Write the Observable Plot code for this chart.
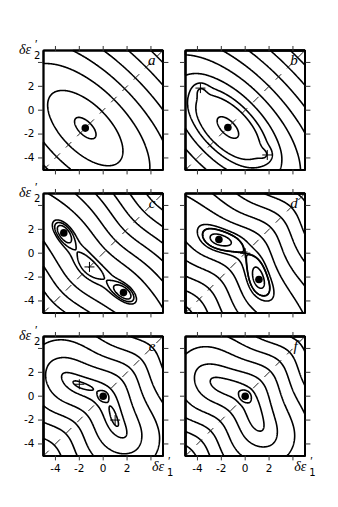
<!DOCTYPE html>
<html><head><meta charset="utf-8">
<script src="https://cdn.jsdelivr.net/npm/d3@7"></script>
<script src="https://cdn.jsdelivr.net/npm/@observablehq/plot@0.6"></script>
<style>
html,body{margin:0;padding:0;background:#fff;}
#fig{position:relative;width:338px;height:507px;overflow:hidden;}
#fig svg{position:absolute;overflow:visible;}
.m{position:absolute;font-family:"Liberation Serif","DejaVu Serif",serif;font-style:italic;color:#000;white-space:nowrap;line-height:1;}
.m .pr{position:absolute;left:16px;top:-5px;font-size:12px;font-style:normal;}
.m .sb{position:absolute;left:15px;top:8px;font-size:10px;font-style:normal;font-family:"DejaVu Sans",sans-serif;}
</style></head><body><div id="fig"></div>
<script>
// ---------------- data ----------------
const DOMAIN = [-5, 5];
const TICKS = [-4, -2, 0, 2, 4];
const LABELLED_TICKS = [-4, -2, 0, 2];
const TICK_LABELS = ["-4", "-2", "0", "2"];
const LETTERS = ["a", "b", "c", "d", "e", "f"];

// filled dots (deepest minima) per panel
const minimaA = [[-1.5, -1.5]];
const minimaB = [[-1.45, -1.45]];
const minimaC = [[-3.3, 1.7], [1.7, -3.3]];
const minimaD = [[-2.2, 1.15], [1.15, -2.2]];
const minimaE = [[0, 0]];
const minimaF = [[0, 0]];
// plus signs (secondary stationary points)
const plusA = [];
const plusB = [[-3.75, 1.85], [1.85, -3.75]];
const plusC = [[-1.15, -1.15]];
const plusD = [[0, 0]];
const plusE = [[-2, 1], [1, -2]];
const plusF = [];

// valley model: centre line u = U0 + dU*(1-exp(-v^2/2s^2)); stiffness A across, B (and C, quartic) along
const valleyU0 = [-2.12, -2.05, -1.63, 0, 0, 0];
const valleyDU = [0, 0, 0.63, -1.2, -1.13, -1.13];
const valleyS = [1, 1, 2, 1.7, 1.5, 1.5];
const stiffA = [1, 1, 1, 0.6, 1, 1];
const stiffB = [0.245, 0.245, 0.05, 0.03, 0.06, 0.1];
const stiffC = [0, 0, 0, 0, 0.004, 0.004];
// wells sitting in the valley: [x, y, depth, width along, width across]
const valleyWellsA = [];
const valleyWellsB = [];
const valleyWellsC = [[-3.3, 1.7, 3.5, 0.75, 0.4], [1.7, -3.3, 3.5, 0.75, 0.4], [-1.15, -1.15, 1.0, 1.1, 0.6]];
const valleyWellsD = [[-2.2, 1.15, 2.0, 1.2, 0.8], [1.15, -2.2, 2.0, 1.2, 0.8]];
const valleyWellsE = [[-2, 1, 2.3, 1.2, 0.4], [1, -2, 2.3, 1.2, 0.4]];
const valleyWellsF = [[-2, 1, 1.2, 1.2, 0.5], [1, -2, 1.2, 1.2, 0.5]];
// round wells: [x, y, depth, radius]
const roundWellsA = [];
const roundWellsB = [[-3.75, 1.85, 1.4, 0.5], [1.85, -3.75, 1.4, 0.5]];
const roundWellsC = [];
const roundWellsD = [];
const roundWellsE = [[0, 0, 3.5, 0.28]];
const roundWellsF = [[0, 0, 2.5, 0.3]];
// points the contour lines pass through
const anchorsA = [[-1.1, -1.1], [-0.1, -0.1], [0.9, 0.9], [1.8, 1.8], [2.7, 2.7], [3.6, 3.6], [4.5, 4.5]];
const anchorsB = [[-1.05, -1.05], [-0.26, -0.26], [0.05, 0.05], [0.55, 0.55], [1.25, 1.25], [2.0, 2.0], [2.8, 2.8], [3.6, 3.6], [4.4, 4.4]];
const anchorsC = [[-2.66, 1.06], [-2.18, -0.12], [-0.55, -0.55], [0.25, 0.25], [1.05, 1.05], [1.85, 1.85], [2.65, 2.65], [3.45, 3.45], [4.25, 4.25]];
const anchorsD = [[-1.36, 0.66], [-0.38, 0.1], [0, 0], [0.55, 0.55], [1.35, 1.35], [2.15, 2.15], [3.0, 3.0], [3.85, 3.85], [4.7, 4.7]];
const anchorsE = [[0.3, 0.3], [0.62, 0.62], [1.46, 1.46], [2.3, 2.3], [3.14, 3.14], [4.1, 4.1]];
const anchorsF = [[0.33, 0.33], [0.55, 0.55], [1.3, 1.3], [2.1, 2.1], [2.9, 2.9], [3.7, 3.7], [4.5, 4.5]];

const minima = [minimaA, minimaB, minimaC, minimaD, minimaE, minimaF];
const pluses = [plusA, plusB, plusC, plusD, plusE, plusF];
const valleyWells = [valleyWellsA, valleyWellsB, valleyWellsC, valleyWellsD, valleyWellsE, valleyWellsF];
const roundWells = [roundWellsA, roundWellsB, roundWellsC, roundWellsD, roundWellsE, roundWellsF];
const anchors = [anchorsA, anchorsB, anchorsC, anchorsD, anchorsE, anchorsF];

// ---------------- layout ----------------
const FRAME = 119.4;
const colLeft = [43.1, 185.3];
const rowTop = [50, 193.3, 335.7];
const ML = 40, MR = 30, MT = 14, MB = 30;

const S2 = Math.SQRT2;
function field(i) {
  const vw = valleyWells[i].map(([x, y, D, sv, su]) => [(y - x) / S2, D, sv, su]);
  const s = valleyS[i];
  return (x, y) => {
    const u = (x + y) / S2, v = (y - x) / S2;
    const U = valleyU0[i] + valleyDU[i] * (1 - Math.exp(-v * v / (2 * s * s)));
    const d = u - U;
    let e = stiffA[i] * d * d + stiffB[i] * v * v + stiffC[i] * v ** 4;
    for (const [wv, D, sv, su] of vw) e -= D * Math.exp(-((v - wv) ** 2) / (2 * sv * sv) - (d * d) / (2 * su * su));
    for (const [wx, wy, R, r] of roundWells[i]) e -= R * Math.exp(-((x - wx) ** 2 + (y - wy) ** 2) / (2 * r * r));
    return e;
  };
}
const plusSymbol = {
  draw(ctx, size) {
    const r = Math.sqrt(size / Math.PI);
    ctx.moveTo(-r, 0); ctx.lineTo(r, 0);
    ctx.moveTo(0, -r); ctx.lineTo(0, r);
  }
};
const labelOf = new Map(LABELLED_TICKS.map((t, k) => [t, TICK_LABELS[k]]));
const fig = document.getElementById("fig");
const tickStyle = {ticks: TICKS, tickSize: 5, label: null, stroke: "#333", fill: "none"};

for (let i = 0; i < 6; i++) {
  const r = Math.floor(i / 2), c = i % 2;
  const showX = r === 2, showY = c === 0;
  const f = field(i);
  const thresholds = anchors[i].map(([x, y]) => f(x, y)).sort((a, b) => a - b);
  const marks = [
    Plot.contour({value: f, x1: DOMAIN[0], x2: DOMAIN[1], y1: DOMAIN[0], y2: DOMAIN[1],
      thresholds, stroke: "black", strokeWidth: 1.6, fill: "none", pixelSize: 0.5}),
    Plot.line(DOMAIN, {x: d => d, y: d => d, stroke: "#222", strokeWidth: 1, strokeDasharray: "7,9"}),
    Plot.dot(pluses[i], {x: "0", y: "1", r: 5, symbol: plusSymbol, stroke: "black", strokeWidth: 1, fill: "none"}),
    Plot.dot(minima[i], {x: "0", y: "1", r: 3.8, fill: "black", stroke: "none"}),
    Plot.frame({stroke: "black", strokeWidth: 1.5}),
    Plot.axisX({anchor: "bottom", ...tickStyle}),
    Plot.axisX({anchor: "top", ...tickStyle}),
    Plot.axisY({anchor: "left", ...tickStyle}),
    Plot.axisY({anchor: "right", ...tickStyle})
  ];
  if (showX) marks.push(Plot.axisX({anchor: "bottom", ticks: LABELLED_TICKS, tickSize: 5, tickPadding: 4, label: null,
    stroke: "none", fill: "black", tickFormat: d => labelOf.get(d)}));
  if (showY) marks.push(Plot.axisY({anchor: "left", ticks: LABELLED_TICKS, tickSize: 5, tickPadding: 4, label: null,
    stroke: "none", fill: "black", tickFormat: d => labelOf.get(d)}));
  const svg = Plot.plot({
    width: ML + FRAME + MR, height: MT + FRAME + MB,
    marginLeft: ML, marginRight: MR, marginTop: MT, marginBottom: MB,
    x: {domain: DOMAIN}, y: {domain: DOMAIN},
    style: {background: "transparent", fontFamily: "DejaVu Sans, sans-serif", fontSize: "10.5px", color: "#000"},
    marks
  });
  svg.style.left = (colLeft[c] - ML) + "px";
  svg.style.top = (rowTop[r] - MT) + "px";
  fig.appendChild(svg);

  const lt = document.createElement("div");
  lt.className = "m";
  lt.style.fontSize = "15px";
  lt.style.left = (colLeft[c] + FRAME - 17) + "px";
  lt.style.top = (rowTop[r] + 3) + "px";
  lt.style.width = "10px";
  lt.style.textAlign = "right";
  lt.textContent = LETTERS[i];
  fig.appendChild(lt);

  if (showY) {
    const yl = document.createElement("div");
    yl.className = "m";
    yl.style.fontSize = "14px";
    yl.style.left = (colLeft[c] - 24) + "px";
    yl.style.top = (rowTop[r] - 7) + "px";
    yl.innerHTML = 'δε<span class="pr">′</span><span class="sb">2</span>';
    fig.appendChild(yl);
  }
  if (showX) {
    const xl = document.createElement("div");
    xl.className = "m";
    xl.style.fontSize = "14px";
    xl.style.left = (colLeft[c] + FRAME - 10.5) + "px";
    xl.style.top = (rowTop[r] + FRAME + 5) + "px";
    xl.innerHTML = 'δε<span class="pr">′</span><span class="sb">1</span>';
    fig.appendChild(xl);
  }
}
</script></body></html>
